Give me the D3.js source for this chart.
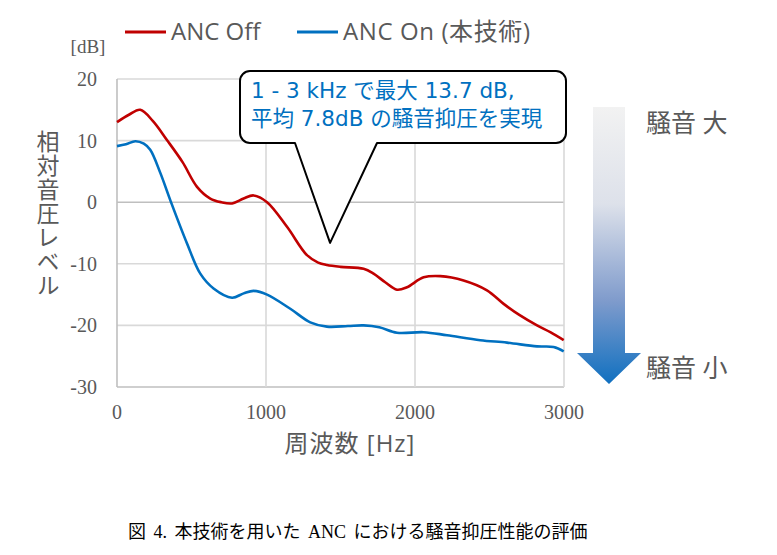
<!DOCTYPE html>
<html>
<head>
<meta charset="utf-8">
<script src="https://cdn.jsdelivr.net/npm/d3@7"></script>
<style>
  body { margin: 0; background: #fff; }
  svg text { fill: #595959; }
</style>
</head>
<body>
<svg id="chart"></svg>
<script>
const FREQ_OFF = [0, 80, 156, 240, 335, 440, 537, 626, 700, 772, 850, 917, 1007, 1141, 1275, 1350, 1409, 1500, 1655, 1722, 1800, 1879, 1946, 2058, 2170, 2326, 2483, 2595, 2700, 2819, 2908, 2998];
const DB_OFF   = [13.0, 14.2, 15.0, 13.2, 10.1, 6.5, 2.5, 0.6, 0.0, -0.2, 0.6, 1.1, 0.0, -4.0, -8.6, -9.8, -10.2, -10.5, -10.8, -11.6, -13.0, -14.2, -13.8, -12.2, -12.0, -12.7, -14.3, -16.5, -18.3, -20.0, -21.1, -22.4];

const FREQ_ON = [0, 60, 123, 180, 223, 290, 358, 470, 559, 648, 772, 850, 917, 1007, 1163, 1297, 1409, 1550, 1655, 1760, 1879, 2058, 2215, 2438, 2617, 2819, 2930, 2998];
const DB_ON   = [9.1, 9.4, 9.9, 9.5, 8.5, 4.8, 0.3, -6.7, -11.6, -14.0, -15.5, -14.8, -14.4, -15.0, -17.3, -19.5, -20.2, -20.1, -20.0, -20.3, -21.2, -21.1, -21.6, -22.4, -22.8, -23.4, -23.5, -24.2];

const X_TICKS = [0, 1000, 2000, 3000];
const Y_TICKS = [20, 10, 0, -10, -20, -30];

const SERIES_NAMES  = ['ANC Off', 'ANC On (本技術)'];
const SERIES_COLORS = ['#c00000', '#0070c0'];

const CALLOUT_LINES = ['1 - 3 kHz で最大 13.7 dB,', '平均 7.8dB の騒音抑圧を実現'];
const Y_TITLE   = '相対音圧レベル';
const X_TITLE   = '周波数 [Hz]';
const Y_UNIT    = '[dB]';
const CAPTION   = '図 4. 本技術を用いた ANC における騒音抑圧性能の評価';

const SVG_W = 777, SVG_H = 555;
const PLOT  = { left: 117, right: 564, top: 79, bottom: 387 };

const xScale = d3.scaleLinear().domain([0, 3000]).range([PLOT.left, PLOT.right]);
const yScale = d3.scaleLinear().domain([-30, 20]).range([PLOT.bottom, PLOT.top]);

const svg = d3.select('#chart')
  .attr('width', SVG_W)
  .attr('height', SVG_H)
  .attr('viewBox', `0 0 ${SVG_W} ${SVG_H}`);

const SANS  = '"Open Sans", "Noto Sans CJK JP", sans-serif';
const SERIF = '"Liberation Serif", "Noto Sans CJK JP", serif';

// grid
const grid = svg.append('g');
Y_TICKS.forEach(v => {
  grid.append('line')
    .attr('x1', PLOT.left).attr('x2', PLOT.right)
    .attr('y1', yScale(v)).attr('y2', yScale(v))
    .attr('stroke', (v === 0 || v === -30) ? '#bfbfbf' : '#d9d9d9')
    .attr('stroke-width', 1.6);
});
X_TICKS.forEach(v => {
  grid.append('line')
    .attr('x1', xScale(v)).attr('x2', xScale(v))
    .attr('y1', PLOT.top).attr('y2', PLOT.bottom)
    .attr('stroke', v === 0 ? '#bfbfbf' : '#d9d9d9')
    .attr('stroke-width', 1.6);
});

// tick labels
svg.append('g').selectAll('text')
  .data(Y_TICKS).join('text')
  .attr('x', 97)
  .attr('y', d => yScale(d) + 7)
  .attr('text-anchor', 'end')
  .style('font', `20px ${SERIF}`)
  .text(d => d);

svg.append('g').selectAll('text')
  .data(X_TICKS).join('text')
  .attr('x', d => xScale(d))
  .attr('y', 419)
  .attr('text-anchor', 'middle')
  .style('font', `20px ${SERIF}`)
  .text(d => d);

svg.append('text')
  .attr('x', 88).attr('y', 53)
  .attr('text-anchor', 'middle')
  .style('font', `19px ${SERIF}`)
  .text(Y_UNIT);

// vertical y title
svg.append('text')
  .attr('x', 47).attr('y', 130)
  .style('writing-mode', 'vertical-rl')
  .style('text-orientation', 'upright')
  .style('letter-spacing', '1px')
  .style('font', `23px ${SANS}`)
  .text(Y_TITLE);

svg.append('text')
  .attr('x', 350).attr('y', 452)
  .attr('text-anchor', 'middle')
  .style('font', `24px ${SANS}`)
  .style('letter-spacing', '1px')
  .text(X_TITLE);

// lines
const line = d3.line()
  .x(d => xScale(d[0]))
  .y(d => yScale(d[1]))
  .curve(d3.curveCatmullRom.alpha(0.5));

const seriesData = [
  d3.zip(FREQ_OFF, DB_OFF),
  d3.zip(FREQ_ON, DB_ON)
];

svg.append('g').selectAll('path')
  .data(seriesData).join('path')
  .attr('d', line)
  .attr('fill', 'none')
  .attr('stroke', (d, i) => SERIES_COLORS[i])
  .attr('stroke-width', 2.6)
  .attr('stroke-linejoin', 'round');

// legend
const legendX = [125, 297];
SERIES_NAMES.forEach((name, i) => {
  svg.append('line')
    .attr('x1', legendX[i]).attr('x2', legendX[i] + 41)
    .attr('y1', 32).attr('y2', 32)
    .attr('stroke', SERIES_COLORS[i])
    .attr('stroke-width', 2.8);
  svg.append('text')
    .attr('x', legendX[i] + 46).attr('y', 40)
    .style('font', `24px ${SANS}`)
    .style('letter-spacing', i === 1 ? '0.6px' : '0px')
    .text(name);
});

// callout balloon
const box  = { x0: 240, x1: 566, y0: 71, y1: 143, r: 10 };
const tip  = [xScale(1430), yScale(-6.6)];
const base = [295, 377];
const balloon = d3.path();
balloon.moveTo(box.x0 + box.r, box.y0);
balloon.lineTo(box.x1 - box.r, box.y0);
balloon.arcTo(box.x1, box.y0, box.x1, box.y0 + box.r, box.r);
balloon.lineTo(box.x1, box.y1 - box.r);
balloon.arcTo(box.x1, box.y1, box.x1 - box.r, box.y1, box.r);
balloon.lineTo(base[1], box.y1);
balloon.lineTo(tip[0], tip[1]);
balloon.lineTo(base[0], box.y1);
balloon.lineTo(box.x0 + box.r, box.y1);
balloon.arcTo(box.x0, box.y1, box.x0, box.y1 - box.r, box.r);
balloon.lineTo(box.x0, box.y0 + box.r);
balloon.arcTo(box.x0, box.y0, box.x0 + box.r, box.y0, box.r);
balloon.closePath();

svg.append('path')
  .attr('d', balloon.toString())
  .attr('fill', '#fff')
  .attr('stroke', '#000')
  .attr('stroke-width', 2)
  .attr('stroke-linejoin', 'round');

svg.append('g').selectAll('text')
  .data(CALLOUT_LINES).join('text')
  .attr('x', 251)
  .attr('y', (d, i) => 98 + i * 28)
  .style('font', '21.5px "DejaVu Sans", "Noto Sans CJK JP", sans-serif')
  .style('fill', '#0070c0')
  .text(d => d);

// gradient arrow
const defs = svg.append('defs');
const grad = defs.append('linearGradient')
  .attr('id', 'arrowGrad')
  .attr('gradientUnits', 'userSpaceOnUse')
  .attr('x1', 0).attr('x2', 0)
  .attr('y1', 107).attr('y2', 384);
grad.append('stop').attr('offset', '0%').attr('stop-color', '#f2f2f2');
grad.append('stop').attr('offset', '35%').attr('stop-color', '#dde1ea');
grad.append('stop').attr('offset', '70%').attr('stop-color', '#7f9bcc');
grad.append('stop').attr('offset', '100%').attr('stop-color', '#1070c0');

const ax = 609;
svg.append('path')
  .attr('d', `M ${ax - 16} 107 L ${ax + 16} 107 L ${ax + 16} 353 L ${ax + 32} 353 L ${ax} 384 L ${ax - 32} 353 L ${ax - 16} 353 Z`)
  .attr('fill', 'url(#arrowGrad)');

svg.append('text')
  .attr('x', 646).attr('y', 132)
  .style('font', `25px ${SANS}`)
  .text('騒音 大');
svg.append('text')
  .attr('x', 646).attr('y', 377)
  .style('font', `25px ${SANS}`)
  .text('騒音 小');

// caption
svg.append('text')
  .attr('x', 128).attr('y', 538)
  .style('font', `18px ${SERIF}`)
  .style('word-spacing', '3px')
  .style('fill', '#000')
  .text(CAPTION);
</script>
</body>
</html>
